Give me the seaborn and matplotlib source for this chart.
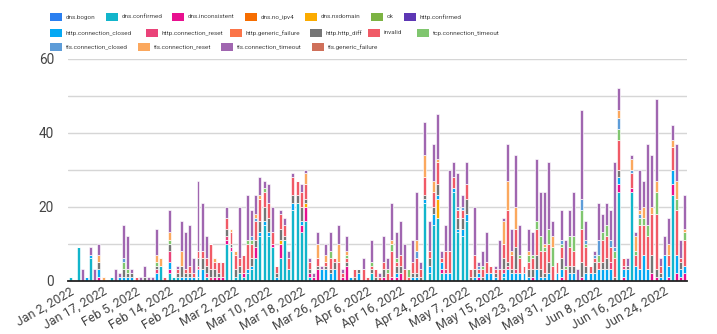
import matplotlib
matplotlib.use("Agg")
import matplotlib.pyplot as plt
import pandas as pd
import seaborn as sns
from matplotlib.patches import Rectangle
from matplotlib import font_manager

# ---------------- data ----------------
missing_days = [
    "2022-01-03", "2022-01-05", "2022-01-07", "2022-01-09", "2022-01-11", "2022-01-13", "2022-01-16",
    "2022-01-18", "2022-01-20", "2022-01-21", "2022-01-23", "2022-01-24", "2022-01-26", "2022-01-27",
    "2022-01-29", "2022-01-30", "2022-02-01", "2022-02-03", "2022-02-10",
    "2022-03-29", "2022-04-01", "2022-04-03", "2022-04-09", "2022-04-12",
    "2022-04-27", "2022-04-30", "2022-05-01", "2022-05-03", "2022-05-05",
]
dates = [d for d in pd.date_range("2022-01-02", "2022-06-29")
         if d.strftime("%Y-%m-%d") not in missing_days]
tick_every = 8

dns_confirmed = [
    1, 0, 9, 0, 0, 6, 0, 0, 0, 0,
    1, 0, 0, 0, 0, 0, 0, 0, 0, 0,
    0, 0, 4, 0, 2, 1, 1, 0, 0, 0,
    0, 1, 0, 1, 0, 0, 0, 0, 10, 8,
    1, 2, 1, 2, 3, 6, 12, 15, 12, 9,
    0, 6, 11, 3, 19, 21, 13, 16, 1, 0,
    0, 0, 0, 0, 0, 0, 0, 0, 0, 0,
    0, 0, 0, 2, 0, 0, 0, 0, 0, 0,
    0, 0, 0, 0, 0, 0, 21, 2, 15, 17,
    2, 0, 0, 24, 13, 12, 16, 0, 0, 0,
    0, 0, 0, 0, 0, 1, 0, 0, 0, 0,
    0, 0, 0, 0, 0, 0, 0, 0, 0, 0,
    0, 0, 0, 0, 0, 0, 0, 0, 0, 0,
    0, 0, 0, 24, 0, 0, 24, 0, 0, 0,
    0, 0, 0, 0, 0, 0, 23, 0, 0, 0,
]
dns_inconsistent = [
    0, 0, 0, 0, 0, 0, 0, 1, 0, 0,
    0, 0, 0, 0, 0, 0, 0, 0, 0, 0,
    0, 0, 0, 0, 1, 0, 0, 0, 0, 0,
    0, 0, 0, 0, 0, 1, 1, 1, 1, 1,
    0, 0, 1, 0, 0, 3, 0, 0, 0, 1,
    0, 4, 0, 0, 0, 0, 2, 4, 1, 1,
    3, 0, 0, 0, 0, 0, 1, 4, 0, 0,
    0, 0, 0, 0, 0, 0, 1, 0, 1, 1,
    2, 0, 0, 0, 0, 0, 0, 0, 0, 0,
    1, 0, 0, 0, 0, 0, 0, 0, 0, 1,
    0, 0, 0, 0, 0, 0, 0, 0, 0, 0,
    0, 0, 1, 0, 0, 0, 0, 0, 0, 1,
    0, 0, 0, 0, 1, 0, 0, 0, 0, 0,
    0, 0, 0, 2, 1, 0, 1, 0, 0, 0,
    0, 2, 1, 0, 0, 1, 3, 2, 1, 2,
]
dns_nxdomain = [
    0, 0, 0, 0, 0, 0, 0, 0, 0, 0,
    0, 0, 0, 0, 0, 0, 0, 0, 0, 0,
    0, 0, 0, 0, 0, 0, 0, 0, 0, 0,
    0, 0, 0, 0, 0, 0, 0, 0, 0, 0,
    0, 0, 0, 0, 0, 0, 0, 0, 0, 0,
    0, 1, 0, 0, 0, 0, 0, 1, 0, 0,
    0, 0, 0, 0, 0, 0, 0, 0, 0, 0,
    0, 0, 0, 0, 0, 0, 0, 0, 0, 0,
    0, 0, 0, 0, 0, 0, 0, 0, 0, 5,
    0, 0, 0, 0, 0, 0, 0, 0, 0, 0,
    0, 0, 0, 0, 0, 0, 0, 0, 0, 0,
    0, 0, 0, 0, 0, 0, 0, 0, 0, 0,
    0, 0, 0, 0, 0, 0, 0, 0, 0, 0,
    0, 0, 0, 0, 0, 0, 0, 0, 0, 0,
    0, 0, 0, 0, 0, 0, 0, 0, 0, 0,
]
http_connection_closed = [
    0, 0, 0, 0, 1, 1, 0, 2, 0, 0,
    0, 0, 1, 1, 1, 1, 0, 0, 0, 0,
    0, 2, 0, 0, 2, 0, 0, 1, 1, 1,
    1, 2, 3, 0, 0, 0, 0, 0, 0, 0,
    0, 0, 0, 1, 1, 0, 1, 1, 1, 0,
    1, 0, 0, 0, 2, 0, 1, 0, 0, 0,
    0, 3, 3, 2, 3, 0, 0, 0, 1, 0,
    2, 0, 0, 0, 0, 0, 0, 0, 0, 1,
    0, 0, 0, 1, 1, 0, 1, 2, 3, 1,
    2, 2, 2, 1, 1, 2, 2, 0, 1, 1,
    0, 2, 2, 1, 0, 1, 3, 2, 2, 2,
    2, 1, 0, 3, 1, 1, 2, 0, 2, 2,
    0, 2, 2, 0, 0, 2, 2, 2, 3, 3,
    3, 3, 0, 2, 2, 3, 0, 4, 3, 7,
    3, 0, 0, 1, 7, 3, 4, 5, 2, 2,
]
http_connection_reset = [
    0, 0, 0, 0, 0, 0, 0, 0, 0, 0,
    0, 0, 0, 0, 0, 0, 0, 0, 0, 0,
    0, 1, 0, 0, 3, 0, 0, 0, 0, 0,
    0, 1, 0, 1, 1, 0, 0, 0, 1, 0,
    0, 0, 0, 0, 0, 0, 0, 0, 0, 0,
    0, 0, 0, 0, 0, 0, 0, 0, 0, 0,
    0, 0, 0, 0, 0, 0, 0, 0, 0, 0,
    0, 0, 0, 0, 0, 0, 0, 0, 0, 0,
    0, 0, 0, 0, 0, 0, 0, 0, 0, 0,
    0, 1, 0, 0, 0, 0, 0, 0, 0, 0,
    0, 0, 0, 0, 0, 1, 1, 0, 1, 0,
    0, 0, 0, 0, 0, 0, 0, 0, 0, 0,
    0, 0, 0, 0, 0, 0, 0, 0, 0, 0,
    0, 2, 0, 0, 1, 0, 0, 0, 0, 0,
    0, 0, 0, 0, 0, 0, 0, 0, 0, 0,
]
http_http_diff = [
    0, 0, 0, 0, 0, 0, 0, 2, 0, 0,
    0, 0, 0, 2, 1, 1, 0, 0, 1, 0,
    0, 1, 0, 0, 2, 0, 1, 3, 1, 1,
    0, 2, 3, 2, 2, 2, 1, 0, 2, 1,
    2, 2, 0, 0, 2, 2, 3, 4, 4, 0,
    1, 3, 1, 0, 2, 2, 4, 1, 1, 0,
    1, 0, 1, 1, 2, 0, 0, 1, 0, 1,
    1, 0, 0, 1, 1, 0, 2, 0, 0, 2,
    2, 0, 0, 1, 1, 1, 1, 2, 2, 3,
    0, 0, 0, 0, 3, 3, 4, 1, 2, 0,
    1, 0, 0, 1, 0, 3, 1, 1, 6, 0,
    0, 2, 2, 4, 2, 1, 3, 0, 0, 3,
    0, 2, 2, 0, 4, 2, 0, 3, 0, 2,
    3, 0, 1, 2, 0, 1, 0, 0, 0, 0,
    0, 5, 2, 1, 0, 0, 0, 0, 2, 0,
]
invalid = [
    0, 0, 0, 0, 0, 0, 0, 0, 0, 0,
    0, 0, 0, 0, 0, 0, 1, 0, 0, 0,
    0, 0, 0, 1, 0, 0, 1, 0, 1, 2,
    1, 2, 2, 2, 7, 2, 3, 4, 3, 3,
    4, 2, 5, 7, 4, 5, 6, 4, 4, 3,
    2, 4, 3, 3, 5, 4, 4, 4, 2, 0,
    2, 0, 1, 3, 1, 5, 1, 1, 0, 2,
    0, 3, 1, 1, 2, 1, 2, 2, 7, 1,
    3, 3, 1, 3, 4, 2, 5, 2, 4, 6,
    1, 5, 6, 3, 2, 2, 4, 2, 4, 1,
    2, 3, 2, 1, 3, 4, 14, 4, 5, 4,
    2, 2, 3, 7, 5, 6, 5, 4, 3, 3,
    3, 5, 4, 0, 9, 5, 2, 1, 2, 6,
    6, 4, 5, 8, 2, 0, 4, 3, 12, 8,
    9, 11, 15, 2, 0, 3, 6, 12, 1, 7,
]
tcp_connection_timeout = [
    0, 0, 0, 0, 0, 0, 0, 0, 0, 0,
    0, 0, 0, 2, 1, 0, 0, 0, 0, 0,
    0, 1, 0, 0, 1, 0, 0, 0, 0, 0,
    0, 0, 0, 0, 0, 0, 0, 0, 0, 0,
    0, 0, 0, 1, 1, 0, 0, 1, 0, 0,
    0, 0, 0, 0, 0, 0, 0, 0, 0, 0,
    0, 0, 0, 2, 0, 0, 0, 1, 0, 0,
    0, 0, 0, 1, 0, 0, 0, 1, 2, 1,
    0, 0, 2, 0, 0, 0, 0, 0, 0, 0,
    0, 0, 0, 0, 0, 0, 0, 0, 0, 0,
    1, 0, 0, 0, 0, 0, 0, 0, 0, 1,
    0, 2, 1, 2, 4, 1, 4, 5, 0, 1,
    1, 3, 4, 0, 5, 1, 0, 0, 2, 2,
    3, 0, 2, 3, 0, 0, 0, 1, 2, 2,
    3, 0, 6, 0, 0, 0, 0, 3, 0, 2,
]
tls_connection_closed = [
    0, 0, 0, 0, 0, 0, 0, 0, 0, 0,
    0, 0, 0, 1, 0, 0, 0, 0, 0, 0,
    0, 0, 0, 0, 0, 0, 0, 0, 0, 0,
    0, 0, 0, 0, 0, 0, 0, 0, 0, 0,
    0, 0, 0, 0, 1, 1, 0, 0, 0, 0,
    0, 0, 0, 0, 0, 0, 0, 0, 0, 0,
    0, 0, 0, 0, 0, 0, 0, 0, 0, 0,
    0, 0, 0, 0, 0, 0, 0, 0, 0, 0,
    0, 0, 0, 0, 2, 0, 0, 0, 0, 0,
    0, 0, 0, 0, 1, 1, 0, 0, 0, 1,
    0, 0, 0, 0, 0, 0, 0, 0, 0, 0,
    0, 0, 0, 0, 0, 0, 0, 0, 0, 1,
    0, 0, 0, 0, 3, 1, 0, 1, 4, 0,
    0, 2, 1, 3, 0, 0, 1, 0, 1, 0,
    0, 0, 0, 0, 0, 0, 0, 0, 0, 0,
]
tls_connection_reset = [
    0, 0, 0, 0, 0, 0, 0, 2, 1, 0,
    0, 0, 0, 0, 0, 0, 0, 0, 0, 0,
    0, 2, 2, 0, 2, 0, 0, 4, 0, 0,
    0, 0, 0, 0, 0, 1, 0, 0, 0, 1,
    1, 0, 0, 0, 0, 1, 1, 0, 0, 0,
    0, 0, 0, 0, 0, 0, 0, 3, 0, 0,
    4, 0, 2, 0, 0, 5, 0, 1, 0, 0,
    0, 0, 0, 0, 0, 0, 0, 0, 1, 0,
    0, 0, 0, 0, 3, 0, 6, 0, 3, 1,
    0, 0, 0, 0, 0, 0, 0, 0, 0, 0,
    0, 0, 0, 0, 0, 6, 8, 1, 6, 0,
    0, 1, 0, 0, 0, 1, 0, 3, 0, 0,
    0, 0, 0, 0, 0, 0, 0, 0, 0, 0,
    0, 0, 0, 2, 0, 0, 3, 4, 1, 3,
    0, 2, 3, 0, 0, 3, 2, 5, 0, 1,
]
tls_connection_timeout = [
    0, 0, 0, 3, 0, 2, 3, 3, 0, 0,
    0, 3, 1, 9, 9, 1, 0, 1, 3, 1,
    1, 7, 0, 0, 6, 0, 1, 8, 10, 11,
    4, 19, 13, 6, 0, 0, 0, 0, 3, 0,
    0, 14, 0, 12, 7, 5, 5, 2, 5, 7,
    0, 1, 2, 2, 1, 0, 2, 1, 1, 1,
    3, 1, 3, 5, 0, 5, 1, 4, 0, 0,
    0, 3, 0, 6, 0, 1, 7, 3, 10, 7,
    9, 7, 0, 6, 13, 2, 9, 8, 10, 12,
    2, 7, 22, 4, 9, 3, 6, 0, 13, 1,
    4, 8, 0, 1, 8, 1, 10, 6, 14, 8,
    0, 6, 6, 17, 12, 14, 18, 4, 0, 8,
    7, 7, 12, 3, 24, 5, 0, 1, 10, 5,
    6, 8, 23, 6, 0, 2, 1, 1, 11, 7,
    22, 14, 22, 2, 5, 7, 4, 10, 5, 9,
]
no_values = []  # series listed in the legend with no bars in this period

series_names = [
    "dns.bogon", "dns.confirmed", "dns.inconsistent", "dns.no_ipv4", "dns.nxdomain", "ok",
    "http.confirmed", "http.connection_closed", "http.connection_reset", "http.generic_failure",
    "http.http_diff", "invalid", "tcp.connection_timeout", "tls.connection_closed",
    "tls.connection_reset", "tls.connection_timeout", "tls.generic_failure",
]
series_values = {
    "dns.bogon": no_values,
    "dns.confirmed": dns_confirmed,
    "dns.inconsistent": dns_inconsistent,
    "dns.no_ipv4": no_values,
    "dns.nxdomain": dns_nxdomain,
    "ok": no_values,
    "http.confirmed": no_values,
    "http.connection_closed": http_connection_closed,
    "http.connection_reset": http_connection_reset,
    "http.generic_failure": no_values,
    "http.http_diff": http_http_diff,
    "invalid": invalid,
    "tcp.connection_timeout": tcp_connection_timeout,
    "tls.connection_closed": tls_connection_closed,
    "tls.connection_reset": tls_connection_reset,
    "tls.connection_timeout": tls_connection_timeout,
    "tls.generic_failure": no_values,
}
colors = {
    "dns.bogon": "#2a7ff0",
    "dns.confirmed": "#12b5cb",
    "dns.inconsistent": "#e8108f",
    "dns.no_ipv4": "#f66d00",
    "dns.nxdomain": "#fbab00",
    "ok": "#7cb342",
    "http.confirmed": "#5d37b4",
    "http.connection_closed": "#04a8f3",
    "http.connection_reset": "#ea4379",
    "http.generic_failure": "#fb7448",
    "http.http_diff": "#757575",
    "invalid": "#f05a66",
    "tcp.connection_timeout": "#80c66f",
    "tls.connection_closed": "#5d9cd8",
    "tls.connection_reset": "#fba85e",
    "tls.connection_timeout": "#a066b0",
    "tls.generic_failure": "#cf705a",
}

# ---------------- long table ----------------
rows = []
for name in series_names:
    for i, v in enumerate(series_values[name]):
        if v > 0:
            rows.append((i, name, v))
df = pd.DataFrame(rows, columns=["idx", "series", "value"])
present = [s for s in series_names if s in set(df["series"])]

# ---------------- plot ----------------
sns.set_theme(style="white")
plt.rcParams["font.family"] = ["Roboto", "DejaVu Sans"]

installed = {f.name for f in font_manager.fontManager.ttflist}
legend_family = ["Liberation Sans Narrow"] if "Liberation Sans Narrow" in installed else ["Roboto"]

W, H = 717, 334
fig = plt.figure(figsize=(W / 100, H / 100), dpi=100)
ax = fig.add_axes([68 / W, 1 - 280.5 / H, 619 / W, (280.5 - 58.7) / H])

sns.histplot(
    data=df, x="idx", weights="value", hue="series",
    hue_order=present[::-1], multiple="stack", discrete=True, shrink=0.72,
    palette=colors, alpha=1, edgecolor="white", linewidth=0.45,
    legend=False, ax=ax,
)

ax.set_xlim(-0.5, len(dates) - 0.5)
ax.set_ylim(0, 60)
ax.set_yticks(range(0, 61, 10))
ax.set_yticklabels([str(t) if t % 20 == 0 else "" for t in range(0, 61, 10)],
                   fontsize=9.8, color="#444444")
ax.yaxis.grid(True, color="#d6d6d6", linewidth=1)
ax.set_axisbelow(True)
pos = list(range(0, len(dates), tick_every))
ax.set_xticks(pos)
ax.set_xticklabels([f"{dates[p]:%b} {dates[p].day}, {dates[p].year}" for p in pos],
                   rotation=30, ha="right", rotation_mode="anchor",
                   fontsize=9.0, color="#444444")
ax.tick_params(axis="both", length=0)
ax.tick_params(axis="x", pad=3)
ax.tick_params(axis="y", pad=10)
ax.set_xlabel("")
ax.set_ylabel("")
for s in ["left", "right", "top"]:
    ax.spines[s].set_visible(False)
ax.spines["bottom"].set_color("#222222")
ax.spines["bottom"].set_linewidth(1.3)

# legend: flowing rows, swatch left edge in pixels per entry
legend_rows = [
    (17, [("dns.bogon", 50), ("dns.confirmed", 106), ("dns.inconsistent", 172),
          ("dns.no_ipv4", 245), ("dns.nxdomain", 305), ("ok", 371), ("http.confirmed", 404)]),
    (33, [("http.connection_closed", 50), ("http.connection_reset", 146),
          ("http.generic_failure", 230), ("http.http_diff", 310), ("invalid", 368),
          ("tcp.connection_timeout", 417)]),
    (47, [("tls.connection_closed", 50), ("tls.connection_reset", 138),
          ("tls.connection_timeout", 221), ("tls.generic_failure", 312)]),
]
# size the legend font so a reference label spans the width measured in the picture
renderer = fig.canvas.get_renderer()
probe = fig.text(0, 0, "http.connection_closed", fontsize=10, family=legend_family)
probe_w = probe.get_window_extent(renderer).width
probe.remove()
legend_size = 10 * 66.0 / probe_w

sw, sh = 12, 8
for yc, entries in legend_rows:
    for name, x0 in entries:
        fig.add_artist(Rectangle((x0 / W, 1 - (yc + sh / 2) / H), sw / W, sh / H,
                                 transform=fig.transFigure, facecolor=colors[name],
                                 edgecolor="none"))
        fig.text((x0 + sw + 4) / W, 1 - yc / H, name, ha="left", va="center",
                 fontsize=legend_size, family=legend_family, color="#444444")

fig.savefig("out.png", dpi=100)
